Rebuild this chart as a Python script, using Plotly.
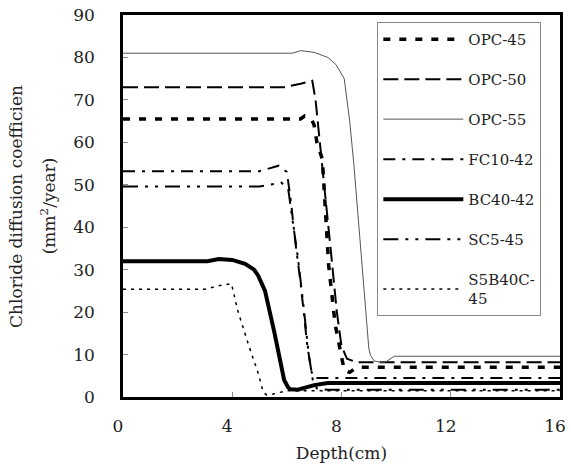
import plotly.graph_objects as go

# ---- data ----
opc45_x = [0, 6.5, 6.65, 6.9, 7.0, 7.1, 7.3, 7.4, 7.53, 7.77, 7.95, 8.1, 8.3, 8.55, 16]
opc45_y = [65.5, 65.5, 66.2, 65.5, 64, 60, 56, 44, 31, 17, 11, 6.3, 5.8, 7.0, 7.0]

opc50_x = [0, 5.9, 6.5, 6.93, 7.05, 7.2, 7.36, 7.6, 7.83, 8.0, 8.2, 8.56, 16]
opc50_y = [73, 73, 73.8, 74.5, 70, 60, 51, 35, 20, 12, 9, 8.2, 8.2]

opc55_x = [0, 6.2, 6.5, 7.0, 7.5, 7.8, 8.1, 8.3, 8.45, 8.6, 8.74, 8.85, 8.92, 9.0, 9.06, 9.2, 9.4, 9.6, 9.93, 16]
opc55_y = [81, 81, 81.6, 81.2, 80, 78.3, 75, 65, 55, 43, 31.4, 22, 15.7, 11.5, 9.8, 8.5, 8.2, 8.2, 9.6, 9.6]

fc10_x = [0, 5.0, 5.7, 6.0, 6.15, 6.3, 6.5, 6.75, 6.9, 7.0, 7.3, 16]
fc10_y = [53.2, 53.2, 54.5, 53, 46, 37, 27, 12, 6, 4.5, 4.5, 4.5]

bc40_x = [0, 3.1, 3.5, 4.0, 4.47, 4.8, 4.95, 5.2, 5.55, 5.78, 5.9, 6.05, 6.15, 6.4, 7.0, 7.5, 16]
bc40_y = [32, 32, 32.5, 32.3, 31.4, 30, 28.6, 25, 15, 7, 4, 2.2, 1.8, 1.7, 2.8, 3.3, 3.3]

sc5_x = [0, 5.0, 5.8, 6.05, 6.2, 6.4, 6.6, 6.8, 6.95, 7.1, 7.5, 16]
sc5_y = [49.6, 49.6, 50.5, 49, 42, 33, 22, 10, 4, 2, 1.7, 1.7]

s5b_x = [0, 3.0, 3.5, 3.97, 4.2, 4.58, 4.95, 5.13, 5.25, 5.5, 6.0, 6.5, 16]
s5b_y = [25.4, 25.4, 26.2, 26.7, 20.4, 12.6, 5.6, 1.2, 0.5, 0.7, 1.5, 1.5, 1.5]

names = ["OPC-45", "OPC-50", "OPC-55", "FC10-42", "BC40-42", "SC5-45", "S5B40C-<br>45"]
xs = [opc45_x, opc50_x, opc55_x, fc10_x, bc40_x, sc5_x, s5b_x]
ys = [opc45_y, opc50_y, opc55_y, fc10_y, bc40_y, sc5_y, s5b_y]

x_ticks = [0, 4, 8, 12, 16]

styles = [
    dict(color="black", width=3.5, dash="7px,9px"),
    dict(color="black", width=2, dash="15px,6px"),
    dict(color="#555555", width=1, dash="solid"),
    dict(color="black", width=2, dash="12px,7px,3px,7px"),
    dict(color="black", width=4, dash="solid"),
    dict(color="black", width=2, dash="15px,7px,3px,7px,3px,7px"),
    dict(color="black", width=1.5, dash="3px,5px"),
]

SERIF = "DejaVu Serif"
TXT = "#222"

fig = go.Figure()
for i, (n, x, y, st) in enumerate(zip(names, xs, ys, styles)):
    fig.add_trace(go.Scatter(x=x, y=y, mode="lines", name=n, line=st,
                             legendgroup=f"g{i}"))

fig.update_layout(
    width=571, height=466,
    margin=dict(l=123, r=5, t=13, b=69),
    paper_bgcolor="white", plot_bgcolor="white",
    font=dict(family=SERIF, size=16, color=TXT),
    showlegend=True,
    legend=dict(
        x=0.582, y=0.982, xanchor="left", yanchor="top",
        bgcolor="white", bordercolor="#888", borderwidth=1,
        font=dict(family=SERIF, size=15, color=TXT),
        itemwidth=80, tracegroupgap=17.5, traceorder="grouped",
    ),
    xaxis=dict(
        range=[0, 16], tickvals=x_ticks, ticks="inside", ticklen=5,
        tickcolor="#888", showgrid=False, zeroline=False,
        showline=True, linecolor="black", linewidth=2.5, mirror=True,
        ticklabelstandoff=12, ticklabelshift=-5, ticklabeloverflow="allow",
        tickfont=dict(family=SERIF, size=17, color=TXT),
        title=dict(text="Depth(cm)", font=dict(family=SERIF, size=17, color=TXT), standoff=12),
    ),
    yaxis=dict(
        range=[0, 90], dtick=10, ticks="inside", ticklen=5,
        tickcolor="#888", showgrid=False, zeroline=False,
        showline=True, linecolor="black", linewidth=2.5, mirror=True,
        ticklabelstandoff=22,
        tickfont=dict(family=SERIF, size=17, color=TXT),
    ),
)

fig.add_annotation(text="Chloride diffusion coefficien", xref="paper", yref="paper",
                   x=-0.245, y=0.5, xanchor="center", yanchor="middle",
                   textangle=-90, showarrow=False,
                   font=dict(family=SERIF, size=17, color=TXT))
fig.add_annotation(text="(mm<sup>2</sup>/year)", xref="paper", yref="paper",
                   x=-0.171, y=0.5, xanchor="center", yanchor="middle",
                   textangle=-90, showarrow=False,
                   font=dict(family=SERIF, size=17, color=TXT))

fig.write_html("out.html")
